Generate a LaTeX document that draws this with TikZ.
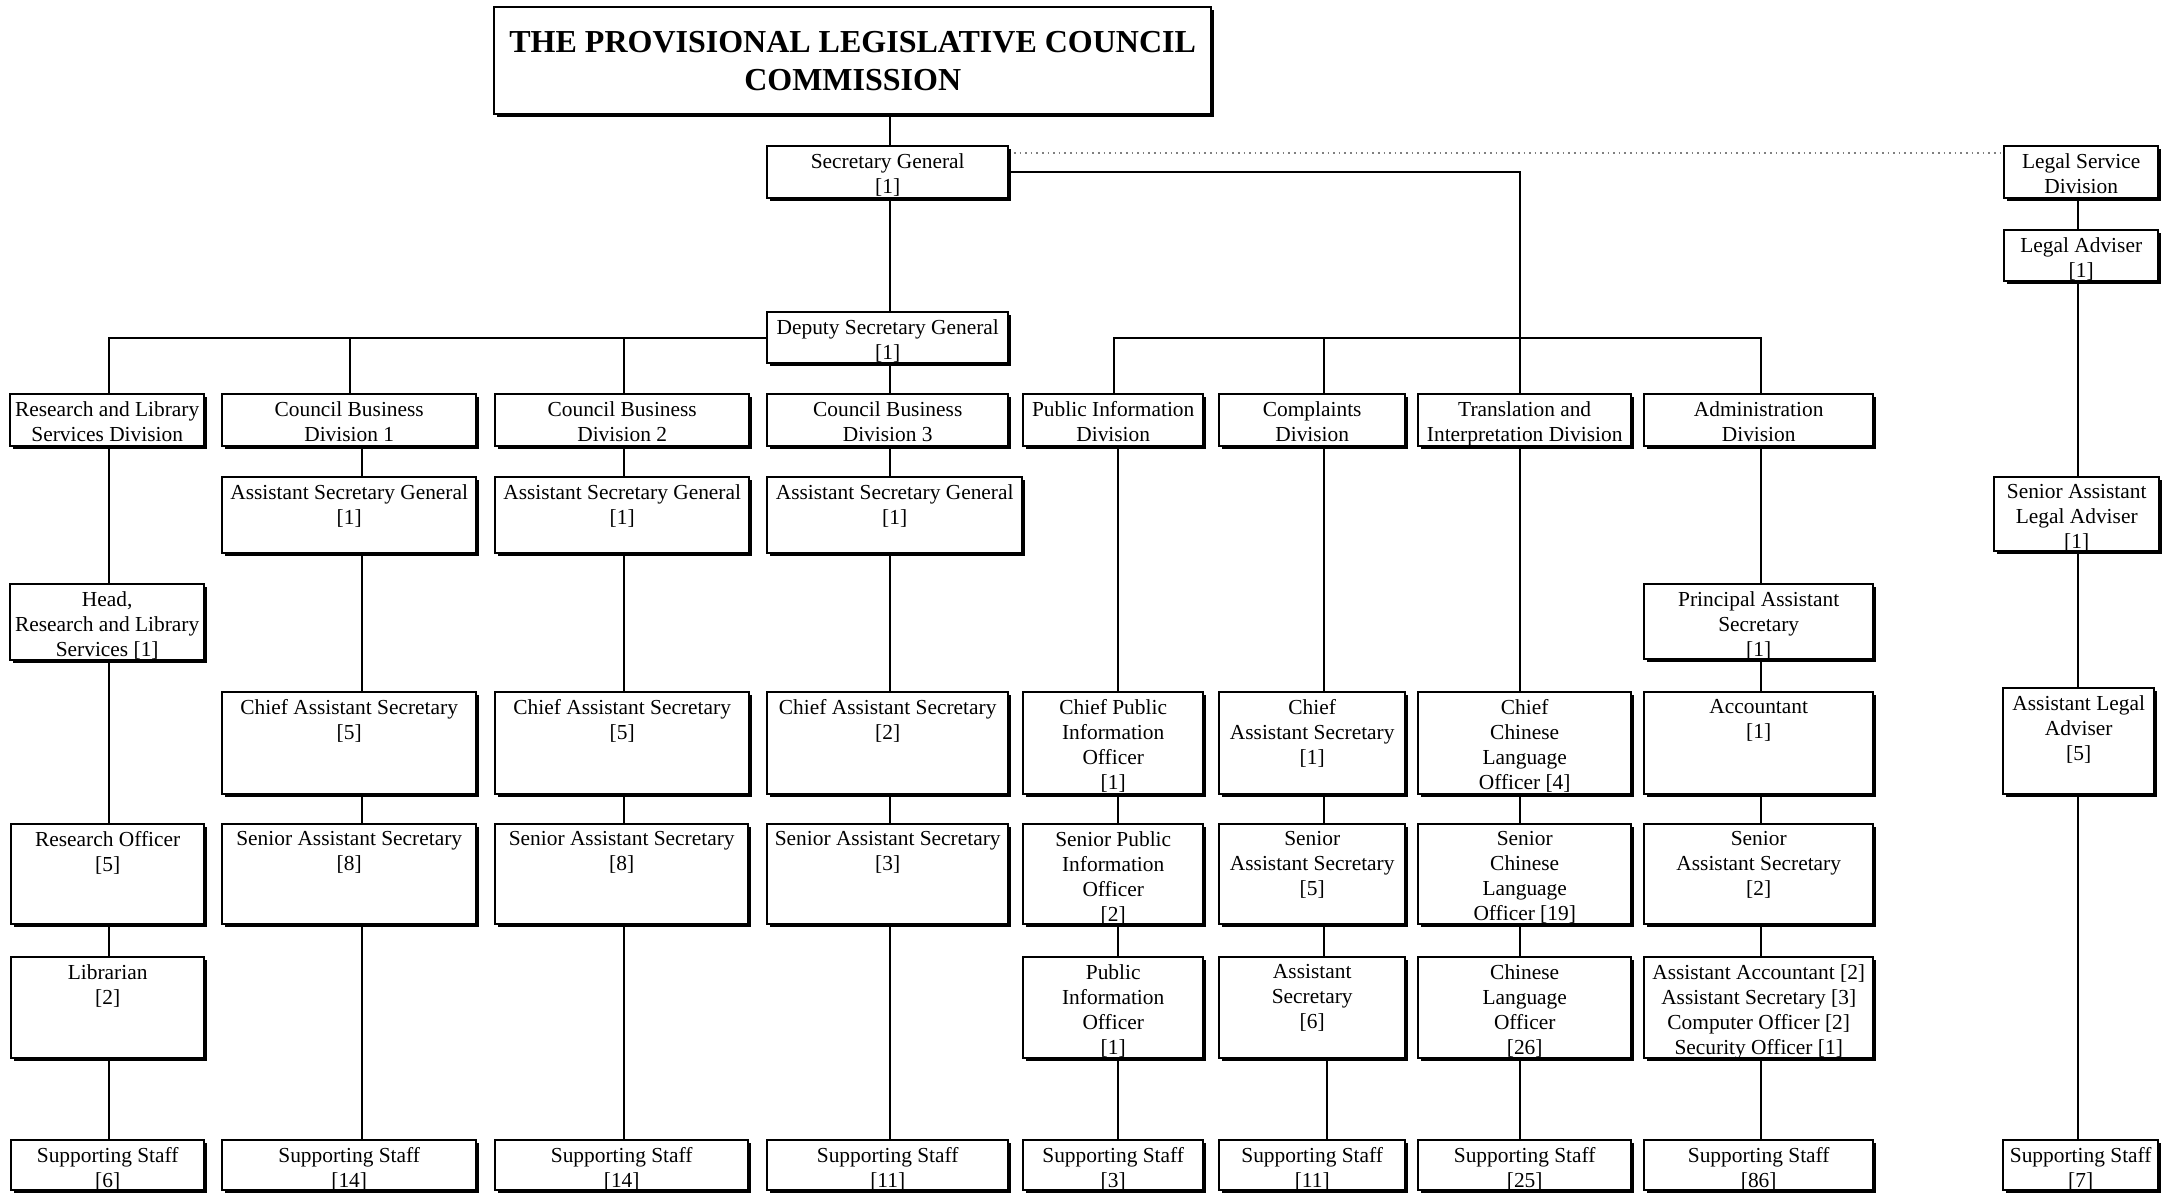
\documentclass[tikz,border=0pt]{standalone}
\usepackage{fontspec}
\setmainfont{Liberation Serif}
\usetikzlibrary{shadows,calc}
\pgfdeclarelayer{bg}
\pgfsetlayers{bg,main}
\tikzset{
  box/.style={draw, fill=white, line width=1.1pt, inner sep=0pt, outer sep=0pt,
    drop shadow={shadow xshift=1.3pt, shadow yshift=-1.3pt, fill=black, opacity=1}},
  txt/.style={inner sep=0pt, align=center, font=\fontsize{10.7}{12.5}\selectfont},
  titletxt/.style={inner sep=0pt, align=center, font=\fontsize{16}{19}\selectfont\bfseries},
  conn/.style={line width=1pt},
  dotconn/.style={line width=0.8pt, gray, dotted},
}
\newcommand\bx[6]{%
  \pgfmathsetmacro\bw{(#4-#2)*0.5-1.9}%
  \pgfmathsetmacro\bh{(#5-#3)*0.5-1.9}%
  \node[box, minimum width=\bw pt, minimum height=\bh pt, anchor=north west] (#1) at ($(#2,#3)+(0.55pt,-0.55pt)$) {};%
  \node[txt, anchor=north] (#1-t) at ([yshift=-3.4pt]#1.north) {#6};}
\newcommand\chain[3]{\draw[conn] (#2.south -| #1) -- (#3.north -| #1);}
\begin{document}
\begin{tikzpicture}[x=0.5pt,y=-0.5pt]
\useasboundingbox (0,0) rectangle (2163,1194);
% column coordinates
\coordinate (cRL) at (109,0);
\coordinate (cCBa) at (362,0);
\coordinate (cCBat) at (350,0);
\coordinate (cCBb) at (624,0);
\coordinate (cC) at (890,0);
\coordinate (cPI) at (1118,0);
\coordinate (cPIt) at (1114,0);
\coordinate (cCO) at (1324,0);
\coordinate (cCOb) at (1327,0);
\coordinate (cTR) at (1520,0);
\coordinate (cAD) at (1761,0);
\coordinate (cLG) at (2078,0);
\coordinate (barY) at (0,337.5);
\coordinate (dotY) at (0,152.7);

% title
\bx{title}{493}{6}{1214}{117}{}
\node[titletxt] (title-main) at ([yshift=0pt]title.center) {THE PROVISIONAL LEGISLATIVE COUNCIL\\COMMISSION};

\bx{sg}{766}{145}{1011}{201}{Secretary General\\{[1]}}
\bx{lsd}{2003}{145}{2161}{201}{Legal Service\\Division}
\bx{la}{2003}{229}{2161}{284}{Legal Adviser\\{[1]}}
\bx{dsg}{766}{311}{1011}{366}{Deputy Secretary General\\{[1]}}

% divisions
\bx{rl}{9}{393}{207}{449}{Research and Library\\Services Division}
\bx{cba}{221}{393}{479}{449}{Council Business\\Division 1}
\bx{cbb}{494}{393}{752}{449}{Council Business\\Division 2}
\bx{cbc}{766}{393}{1011}{449}{Council Business\\Division 3}
\bx{pi}{1022}{393}{1206}{449}{Public Information\\Division}
\bx{co}{1218}{393}{1408}{449}{Complaints\\Division}
\bx{tr}{1417}{393}{1634}{449}{Translation and\\Interpretation Division}
\bx{ad}{1643}{393}{1876}{449}{Administration\\Division}

% ASG row
\bx{asga}{221}{476}{479}{556}{Assistant Secretary General\\{[1]}}
\bx{asgb}{494}{476}{752}{556}{Assistant Secretary General\\{[1]}}
\bx{asgc}{766}{476}{1025}{556}{Assistant Secretary General\\{[1]}}
\bx{sala}{1993}{476}{2162}{554}{Senior Assistant\\Legal Adviser\\{[1]}}
\bx{head}{9}{583}{207}{663}{Head,\\Research and Library\\Services [1]}
\bx{adz}{1643}{583}{1876}{662}{Principal Assistant\\Secretary\\{[1]}}

% chief row
\bx{casa}{221}{691}{479}{797}{Chief Assistant Secretary\\{[5]}}
\bx{casb}{494}{691}{752}{797}{Chief Assistant Secretary\\{[5]}}
\bx{casc}{766}{691}{1011}{797}{Chief Assistant Secretary\\{[2]}}
\bx{pia}{1022}{691}{1206}{797}{Chief Public\\Information\\Officer\\{[1]}}
\bx{coa}{1218}{691}{1408}{797}{Chief\\Assistant Secretary\\{[1]}}
\bx{tra}{1417}{691}{1634}{797}{Chief\\Chinese\\Language\\Officer [4]}
\bx{ada}{1643}{691}{1876}{797}{Accountant\\{[1]}}
\bx{ala}{2002}{687}{2157}{797}{Assistant Legal\\Adviser\\{[5]}}

% senior row
\bx{ro}{10}{823}{207}{927}{Research Officer\\{[5]}}
\bx{sasa}{221}{823}{479}{927}{Senior Assistant Secretary\\{[8]}}
\bx{sasb}{494}{823}{751}{927}{Senior Assistant Secretary\\{[8]}}
\bx{sasc}{766}{823}{1011}{927}{Senior Assistant Secretary\\{[3]}}
\bx{pib}{1022}{823}{1206}{927}{Senior Public\\Information\\Officer\\{[2]}}
\bx{cob}{1218}{823}{1408}{927}{Senior\\Assistant Secretary\\{[5]}}
\bx{trb}{1417}{823}{1634}{927}{Senior\\Chinese\\Language\\Officer [19]}
\bx{adb}{1643}{823}{1876}{927}{Senior\\Assistant Secretary\\{[2]}}

% third row
\bx{lib}{10}{956}{207}{1061}{Librarian\\{[2]}}
\bx{pic}{1022}{956}{1206}{1061}{Public\\Information\\Officer\\{[1]}}
\bx{coc}{1218}{956}{1408}{1061}{Assistant\\Secretary\\{[6]}}
\bx{trc}{1417}{956}{1634}{1061}{Chinese\\Language\\Officer\\{[26]}}
\bx{adc}{1643}{956}{1876}{1061}{Assistant Accountant [2]\\Assistant Secretary [3]\\Computer Officer [2]\\Security Officer [1]}

% supporting staff
\bx{ssrl}{10}{1139}{207}{1193}{Supporting Staff\\{[6]}}
\bx{ssa}{221}{1139}{479}{1193}{Supporting Staff\\{[14]}}
\bx{ssb}{494}{1139}{751}{1193}{Supporting Staff\\{[14]}}
\bx{ssc}{766}{1139}{1011}{1193}{Supporting Staff\\{[11]}}
\bx{sspi}{1022}{1139}{1206}{1193}{Supporting Staff\\{[3]}}
\bx{ssco}{1218}{1139}{1408}{1193}{Supporting Staff\\{[11]}}
\bx{sstr}{1417}{1139}{1634}{1193}{Supporting Staff\\{[25]}}
\bx{ssad}{1643}{1139}{1876}{1193}{Supporting Staff\\{[86]}}
\bx{sslg}{2002}{1139}{2161}{1193}{Supporting Staff\\{[7]}}

\begin{pgfonlayer}{bg}
  % top chain
  \chain{cC}{title}{sg}
  \chain{cC}{sg}{dsg}
  \chain{cC}{dsg}{cbc}
  % left bar
  \draw[conn] (dsg.west |- barY) -| (rl.north -| cRL);
  \draw[conn] (cCBat |- barY) -- (cba.north -| cCBat);
  \draw[conn] (cCBb |- barY) -- (cbb.north -| cCBb);
  % right branch
  \draw[conn] (sg.east) -| (tr.north -| cTR);
  \draw[conn] (pi.north -| cPIt) -- (cPIt |- barY) -- (cAD |- barY) -- (ad.north -| cAD);
  \draw[conn] (cCO |- barY) -- (co.north -| cCO);
  % dotted link to legal service
  \draw[dotconn] (sg.east |- dotY) -- (lsd.west |- dotY);
  % research
  \chain{cRL}{rl}{head}
  \chain{cRL}{head}{ro}
  \chain{cRL}{ro}{lib}
  \chain{cRL}{lib}{ssrl}
  % council business 1
  \chain{cCBa}{cba}{asga}
  \chain{cCBa}{asga}{casa}
  \chain{cCBa}{casa}{sasa}
  \chain{cCBa}{sasa}{ssa}
  % council business 2
  \chain{cCBb}{cbb}{asgb}
  \chain{cCBb}{asgb}{casb}
  \chain{cCBb}{casb}{sasb}
  \chain{cCBb}{sasb}{ssb}
  % council business 3
  \chain{cC}{cbc}{asgc}
  \chain{cC}{asgc}{casc}
  \chain{cC}{casc}{sasc}
  \chain{cC}{sasc}{ssc}
  % public information
  \chain{cPI}{pi}{pia}
  \chain{cPI}{pia}{pib}
  \chain{cPI}{pib}{pic}
  \chain{cPI}{pic}{sspi}
  % complaints
  \chain{cCO}{co}{coa}
  \chain{cCO}{coa}{cob}
  \chain{cCO}{cob}{coc}
  \chain{cCOb}{coc}{ssco}
  % translation
  \chain{cTR}{tr}{tra}
  \chain{cTR}{tra}{trb}
  \chain{cTR}{trb}{trc}
  \chain{cTR}{trc}{sstr}
  % administration
  \chain{cAD}{ad}{adz}
  \chain{cAD}{adz}{ada}
  \chain{cAD}{ada}{adb}
  \chain{cAD}{adb}{adc}
  \chain{cAD}{adc}{ssad}
  % legal
  \chain{cLG}{lsd}{la}
  \chain{cLG}{la}{sala}
  \chain{cLG}{sala}{ala}
  \chain{cLG}{ala}{sslg}
\end{pgfonlayer}
\end{tikzpicture}
\end{document}
